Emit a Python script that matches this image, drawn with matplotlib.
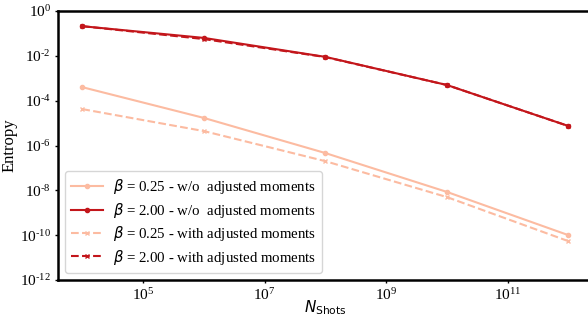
import matplotlib
matplotlib.use("Agg")
import matplotlib.pyplot as plt
from matplotlib.font_manager import FontProperties
from matplotlib.ticker import FuncFormatter
import numpy as np

n_shots = [1e4, 1e6, 1e8, 1e10, 1e12]
b025_wo = [4.0e-4, 1.7e-5, 4.6e-7, 8.5e-9, 1.0e-10]
b200_wo = [0.21, 0.063, 0.009, 5.0e-4, 7.4e-6]
b025_with = [4.2e-5, 4.4e-6, 2.0e-7, 5.0e-9, 5.4e-11]
b200_with = [0.21, 0.056, 0.0088, 5.0e-4, 7.4e-6]
labels = [r"$\beta$ = 0.25 - w/o  adjusted moments",
          r"$\beta$ = 2.00 - w/o  adjusted moments",
          r"$\beta$ = 0.25 - with adjusted moments",
          r"$\beta$ = 2.00 - with adjusted moments"]
x_ticks = [1e5, 1e7, 1e9, 1e11]
y_ticks = [1e0, 1e-2, 1e-4, 1e-6, 1e-8, 1e-10, 1e-12]

plt.rcParams['font.family'] = ['Liberation Serif', 'DejaVu Sans']
plt.rcParams['mathtext.fontset'] = 'stix'

light = '#fcbba1'
dark = '#c3161b'


def pow_fmt(v, pos):
    e = int(round(np.log10(v)))
    if e < 0:
        return r"$\mathdefault{10^{\text{-}%d}}$" % (-e)
    return r"$\mathdefault{10^{%d}}$" % e


fig = plt.figure(figsize=(5.88, 3.25), dpi=100)
ax = fig.add_axes([58/588, 45/325, 1 - 58/588 + 0.008, 269/325])

ax.plot(n_shots, b025_wo, color=light, lw=1.5, marker='o', ms=3, label=labels[0])
ax.plot(n_shots, b200_wo, color=dark, lw=1.5, marker='o', ms=3, label=labels[1])
ax.plot(n_shots, b025_with, color=light, lw=1.5, ls='--', marker='x', ms=3, label=labels[2])
ax.plot(n_shots, b200_with, color=dark, lw=1.5, ls='--', marker='x', ms=3, label=labels[3])

ax.set_xscale('log')
ax.set_yscale('log')
ax.set_ylim(1e-12, 1e0)
ax.set_xlim(10**3.6, 10**12.4)
ax.set_xticks(x_ticks)
ax.set_yticks(y_ticks)
ax.minorticks_off()
ax.xaxis.set_major_formatter(FuncFormatter(pow_fmt))
ax.yaxis.set_major_formatter(FuncFormatter(pow_fmt))
ax.tick_params(axis='both', labelsize=11, length=2.5, width=1, direction='out', pad=2.5)
for s in ax.spines.values():
    s.set_linewidth(1.8)

ax.set_xlabel(r"$N_{\mathrm{Shots}}$", fontsize=11, labelpad=-3,
              math_fontfamily='dejavusans')
ax.set_ylabel("Entropy", fontsize=12)
ax.yaxis.set_label_coords(-0.076, 0.5)

prop = FontProperties(family=['Liberation Serif', 'DejaVu Sans'], size=10.7,
                      math_fontfamily='dejavusans')
ax.legend(loc='lower left', prop=prop, frameon=True, handlelength=2.1,
          handletextpad=0.7, borderaxespad=0.5, labelspacing=0.3, framealpha=0.8)

fig.savefig("out.png", dpi=100)
